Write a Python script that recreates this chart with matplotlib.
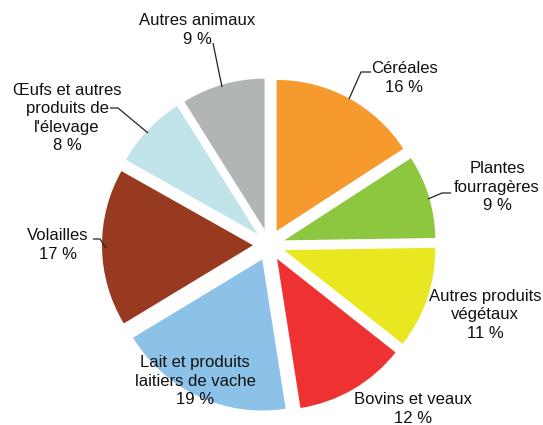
import matplotlib.pyplot as plt

plt.rcParams['font.family'] = ['Liberation Sans', 'DejaVu Sans']

# Parts of the total (%), clockwise from the top
categories = ['Céréales', 'Plantes\nfourragères', 'Autres produits\nvégétaux',
              'Bovins et veaux', 'Lait et produits\nlaitiers de vache', 'Volailles',
              'Œufs et autres\nproduits de\nl\'élevage', 'Autres animaux']
values = [16, 9, 11, 12, 19, 17, 8, 9]
colors = ['#F79A2E', '#8DC63F', '#E9E71F', '#EE3131', '#8CC1E8', '#983A1F',
          '#C1E4EB', '#B2B5B6']

W, H = 543, 425
fig = plt.figure(figsize=(W / 100, H / 100), dpi=100)
ax = fig.add_axes([0, 0, 1, 1])

cx, cy, R = 269, 245, 151
# explode is in data units here (pixels)
ax.pie(values, colors=colors, startangle=90, counterclock=False,
       center=(cx, -cy), radius=R, explode=[16] * len(values),
       wedgeprops=dict(linewidth=0), frame=False)
ax.set_xlim(0, W)
ax.set_ylim(-H, 0)
ax.set_aspect('equal')
ax.axis('off')


def label(i, x, y, line=None):
    txt = categories[i] + '\n' + f'{values[i]} %'
    ax.text(x, -y, txt, ha='center', va='center', fontsize=12,
            linespacing=1.3, color='#111111')
    if line:
        xs = [p[0] for p in line]
        ys = [-p[1] for p in line]
        ax.plot(xs, ys, color='#222222', lw=0.9, solid_capstyle='butt')


label(0, 404, 78, [(371, 72), (361, 72), (349, 99)])
label(1, 497, 187, [(451, 193), (442, 193), (428, 199)])
label(2, 485, 315)
label(3, 413, 409)
label(4, 195, 381)
label(5, 58, 245, [(93, 239), (100, 239), (106, 248)])
label(6, 67, 118, [(110, 108), (118, 108), (148, 133)])
label(7, 197, 30, [(213, 43), (222, 87)])

fig.savefig('out.png', dpi=100)
